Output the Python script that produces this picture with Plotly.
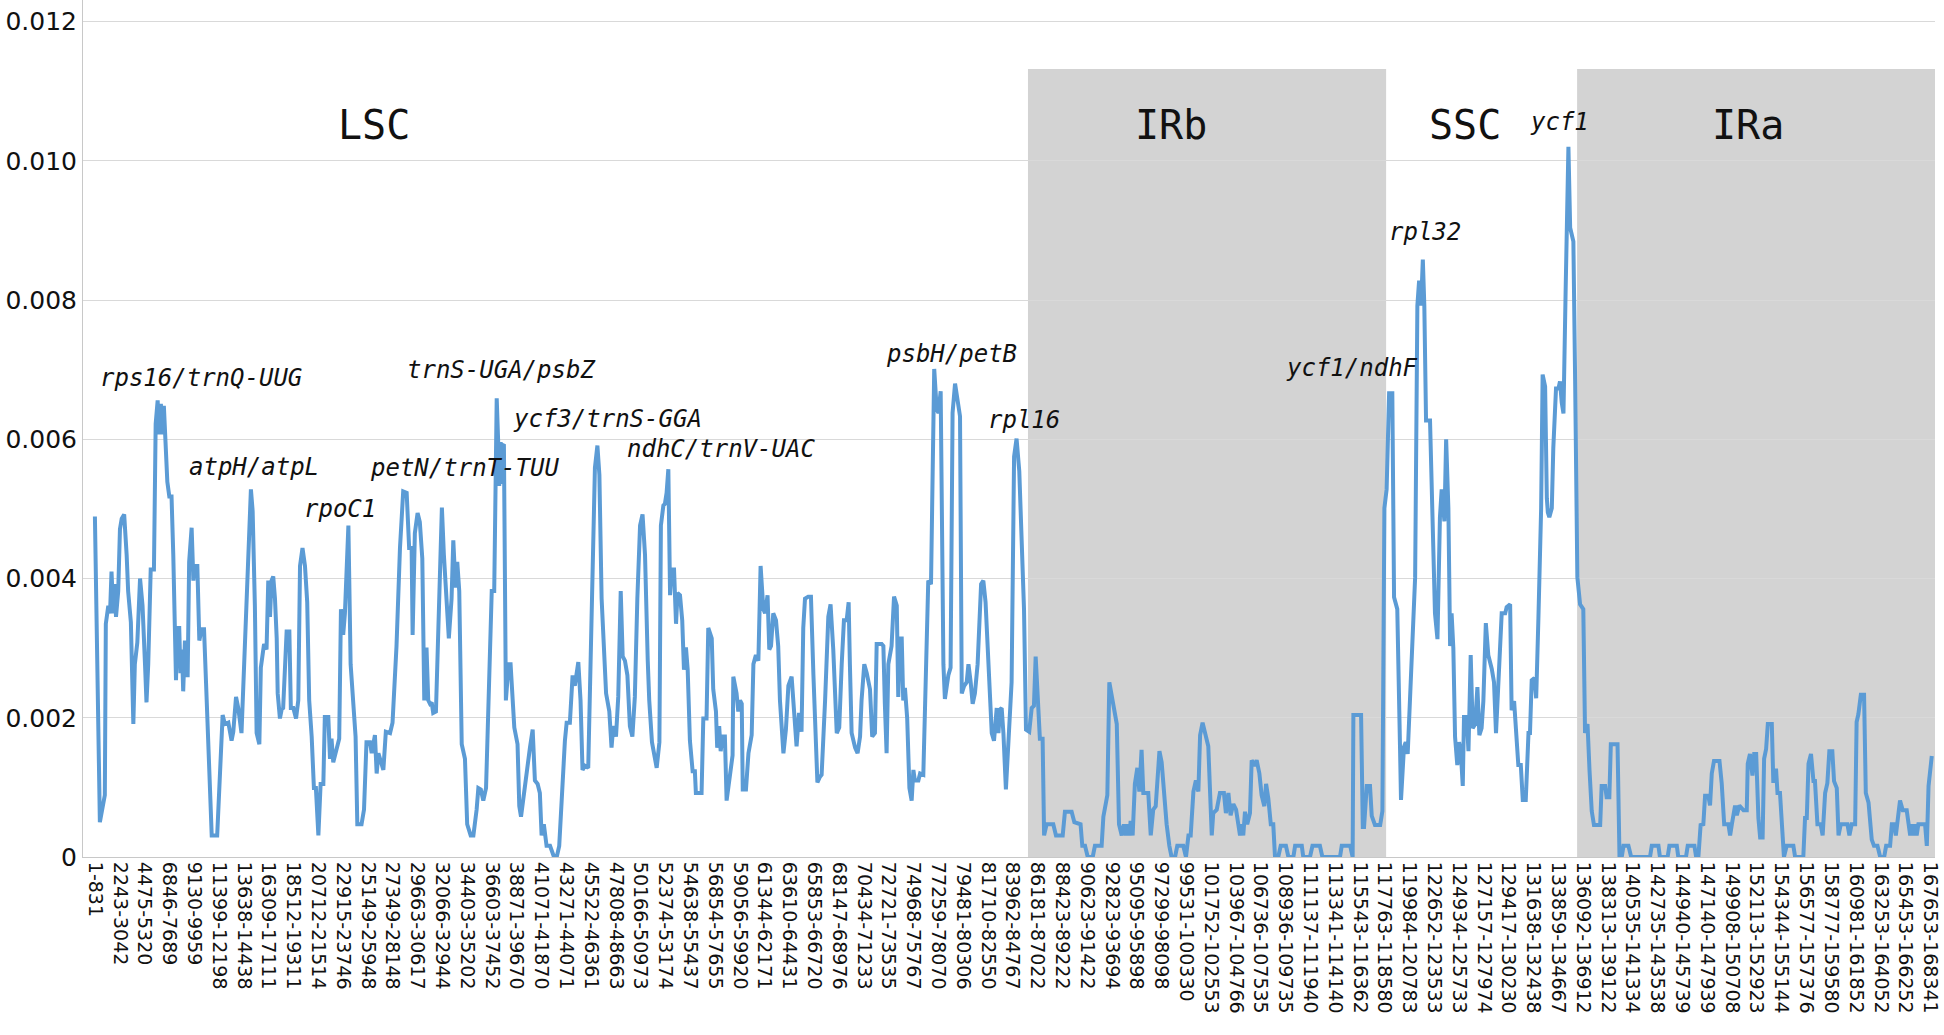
import plotly.graph_objects as go

# window labels shown under the axis (one every ~11 windows)
tick_labels = [
    "1-831", "2243-3042", "4475-5320", "6846-7689", "9130-9959", "11399-12198",
    "13638-14438", "16309-17111", "18512-19311", "20712-21514", "22915-23746",
    "25149-25948", "27349-28148", "29663-30617", "32066-32944", "34403-35202",
    "36603-37452", "38871-39670", "41071-41870", "43271-44071", "45522-46361",
    "47808-48663", "50166-50973", "52374-53174", "54638-55437", "56854-57655",
    "59056-59920", "61344-62171", "63610-64431", "65853-66720", "68147-68976",
    "70434-71233", "72721-73535", "74968-75767", "77259-78070", "79481-80306",
    "81710-82550", "83962-84767", "86181-87022", "88423-89222", "90623-91422",
    "92823-93694", "95095-95898", "97299-98098", "99531-100330", "101752-102553",
    "103967-104766", "106736-107535", "108936-109735", "111137-111940",
    "113341-114140", "115543-116362", "117763-118580", "119984-120783",
    "122652-123533", "124934-125733", "127157-127974", "129417-130230",
    "131638-132438", "133859-134667", "136092-136912", "138313-139122",
    "140535-141334", "142735-143538", "144940-145739", "147140-147939",
    "149908-150708", "152113-152923", "154344-155144", "156577-157376",
    "158777-159580", "160981-161852", "163253-164052", "165453-166252",
    "167653-168341",
]

# (position in tick units, Pi x 1e-3)
lsc = [
    (0.00, 4.89), (0.20, 0.50), (0.40, 0.89), (0.44, 3.35), (0.54, 3.61), (0.61, 3.50),
    (0.67, 4.10), (0.74, 3.50), (0.81, 3.92), (0.85, 3.45), (0.94, 3.82), (1.01, 4.71),
    (1.08, 4.86), (1.18, 4.92), (1.28, 4.34), (1.34, 3.82), (1.45, 3.37), (1.55, 1.91),
    (1.61, 2.77), (1.71, 3.08), (1.82, 4.00), (1.92, 3.61), (2.02, 2.77), (2.08, 2.22),
    (2.15, 2.77), (2.25, 4.13), (2.38, 4.13), (2.45, 6.22), (2.53, 6.56), (2.59, 6.07),
    (2.66, 6.51), (2.72, 6.07), (2.78, 6.48), (2.86, 5.80), (2.92, 5.39), (3.00, 5.18),
    (3.09, 5.18), (3.16, 4.34), (3.23, 3.03), (3.27, 2.54), (3.32, 3.29), (3.40, 3.29),
    (3.45, 2.64), (3.51, 2.98), (3.56, 2.38), (3.63, 3.11), (3.70, 2.61), (3.74, 2.61),
    (3.80, 4.24), (3.90, 4.73), (3.97, 3.97), (4.03, 4.18), (4.13, 4.18), (4.21, 3.11),
    (4.30, 3.27), (4.40, 3.27), (4.48, 2.51), (4.64, 1.20), (4.71, 0.31), (4.93, 0.31),
    (5.04, 1.20), (5.15, 2.04), (5.24, 1.91), (5.38, 1.93), (5.51, 1.67), (5.58, 1.80),
    (5.69, 2.30), (5.78, 2.14), (5.91, 1.78), (5.98, 2.46), (6.12, 3.71), (6.21, 4.76),
    (6.29, 5.28), (6.36, 4.97), (6.45, 3.61), (6.52, 1.78), (6.63, 1.62), (6.69, 2.72),
    (6.82, 3.06), (6.92, 2.98), (6.99, 3.97), (7.06, 3.45), (7.12, 3.97), (7.19, 4.03),
    (7.26, 3.71), (7.33, 3.14), (7.37, 2.35), (7.46, 1.99), (7.53, 2.12), (7.59, 2.14),
    (7.66, 2.69), (7.73, 3.24), (7.84, 3.24), (7.90, 2.14), (8.00, 2.14), (8.11, 1.99),
    (8.20, 2.25), (8.27, 4.18), (8.37, 4.44), (8.47, 4.18), (8.56, 3.66), (8.64, 2.25),
    (8.74, 1.73), (8.83, 0.99), (8.91, 0.99), (9.01, 0.31), (9.10, 1.05), (9.21, 1.05),
    (9.27, 2.01), (9.41, 2.01), (9.48, 1.41), (9.54, 1.70), (9.61, 1.36), (9.75, 1.57),
    (9.85, 1.70), (9.92, 3.56), (10.01, 3.19), (10.08, 3.50), (10.22, 4.76), (10.31, 2.77),
    (10.42, 2.25), (10.51, 1.73), (10.58, 0.47), (10.75, 0.47), (10.85, 0.68), (10.95, 1.65),
    (11.09, 1.65), (11.16, 1.49), (11.29, 1.75), (11.36, 1.20), (11.43, 1.49), (11.63, 1.25),
    (11.73, 1.80), (11.90, 1.78), (12.00, 1.93), (12.16, 3.03), (12.30, 4.44), (12.43, 5.25),
    (12.57, 5.23), (12.67, 4.44), (12.77, 4.44), (12.81, 3.19), (12.90, 4.65), (13.01, 4.94),
    (13.10, 4.81), (13.20, 4.29), (13.28, 2.25), (13.37, 3.01), (13.44, 2.25), (13.51, 2.20),
    (13.58, 2.22), (13.64, 2.07), (13.75, 2.09), (13.88, 3.56), (13.99, 5.02), (14.07, 4.34),
    (14.18, 3.71), (14.27, 3.14), (14.38, 3.71), (14.45, 4.55), (14.54, 3.87), (14.61, 4.24),
    (14.69, 3.82), (14.79, 1.62), (14.92, 1.41), (15.01, 0.47), (15.15, 0.31), (15.26, 0.31),
    (15.39, 0.68), (15.46, 0.99), (15.56, 0.97), (15.66, 0.81), (15.77, 0.99), (15.86, 2.25),
    (16.00, 3.82), (16.10, 3.82), (16.20, 6.59), (16.26, 5.96), (16.30, 5.33), (16.36, 5.96),
    (16.40, 5.36), (16.44, 5.91), (16.49, 5.93), (16.57, 2.25), (16.68, 2.77), (16.76, 2.77),
    (16.84, 2.25), (16.91, 1.86), (17.04, 1.62), (17.11, 0.73), (17.18, 0.58), (17.30, 0.94),
    (17.41, 1.20), (17.54, 1.57), (17.65, 1.83), (17.74, 1.10), (17.85, 1.05), (17.94, 0.92),
    (18.01, 0.31), (18.10, 0.47), (18.21, 0.16), (18.35, 0.16), (18.51, 0.00), (18.62, 0.00),
    (18.72, 0.16), (18.82, 0.94), (18.95, 1.67), (19.02, 1.93), (19.15, 1.93), (19.26, 2.61),
    (19.35, 2.46), (19.49, 2.80), (19.58, 2.25), (19.66, 1.25), (19.76, 1.31), (19.89, 1.28),
    (19.96, 2.25), (20.05, 3.92), (20.16, 5.59), (20.26, 5.91), (20.34, 5.49), (20.43, 3.71),
    (20.50, 3.03), (20.61, 2.35), (20.74, 2.09), (20.83, 1.57), (20.90, 1.88), (21.01, 1.73),
    (21.10, 2.30), (21.20, 3.82), (21.28, 2.88), (21.37, 2.82), (21.47, 2.61), (21.57, 1.88),
    (21.67, 1.73), (21.77, 2.30), (21.87, 3.71), (21.98, 4.76), (22.08, 4.92), (22.18, 4.34),
    (22.29, 2.82), (22.35, 2.25), (22.46, 1.65), (22.54, 1.46), (22.65, 1.28), (22.76, 1.65),
    (22.82, 4.76), (22.92, 5.05), (22.98, 5.07), (23.05, 5.23), (23.12, 5.57), (23.19, 3.76),
    (23.25, 4.13), (23.35, 4.13), (23.43, 3.35), (23.49, 3.79), (23.59, 3.76), (23.68, 3.40),
    (23.75, 2.69), (23.83, 3.01), (23.90, 2.69), (23.99, 1.67), (24.10, 1.23), (24.19, 1.23),
    (24.23, 0.92), (24.46, 0.92), (24.53, 1.99), (24.66, 1.99), (24.73, 3.29), (24.87, 3.14),
    (24.93, 2.41), (25.04, 2.09), (25.09, 1.57), (25.17, 1.88), (25.23, 1.52), (25.31, 1.73),
    (25.40, 1.73), (25.47, 0.81), (25.61, 1.15), (25.71, 1.46), (25.74, 2.59), (25.87, 2.35),
    (25.94, 2.09), (26.01, 2.25), (26.08, 2.20), (26.12, 0.97), (26.25, 0.97), (26.35, 1.49),
    (26.48, 1.75), (26.55, 2.77), (26.65, 2.90), (26.75, 2.82), (26.84, 4.18), (26.95, 3.56),
    (27.02, 3.50), (27.12, 3.76), (27.19, 2.98), (27.26, 3.03), (27.35, 3.50), (27.46, 3.40),
    (27.55, 3.03), (27.62, 2.25), (27.76, 1.49), (27.86, 1.83), (27.96, 2.46), (28.09, 2.59),
    (28.19, 2.09), (28.29, 1.59), (28.39, 2.07), (28.49, 1.80), (28.56, 3.29), (28.63, 3.71),
    (28.76, 3.74), (28.87, 3.74), (28.97, 2.61), (29.07, 1.73), (29.13, 1.07), (29.23, 1.15),
    (29.30, 1.18), (29.44, 2.25), (29.57, 3.45), (29.66, 3.63), (29.77, 2.98), (29.91, 1.78),
    (30.01, 1.86), (30.11, 2.77), (30.20, 3.40), (30.31, 3.40), (30.39, 3.66), (30.44, 2.77),
    (30.51, 1.78), (30.65, 1.57), (30.75, 1.49), (30.85, 1.73), (30.91, 2.25), (31.02, 2.77),
    (31.12, 2.64), (31.25, 2.41), (31.34, 1.73), (31.45, 1.78), (31.52, 3.06), (31.72, 3.06),
    (31.79, 3.03), (31.85, 2.20), (31.92, 1.49), (31.99, 2.77), (32.12, 3.03), (32.22, 3.74),
    (32.33, 3.61), (32.39, 2.30), (32.46, 3.14), (32.53, 3.14), (32.59, 2.25), (32.66, 2.43),
    (32.75, 1.99), (32.84, 0.99), (32.93, 0.81), (33.00, 1.25), (33.06, 1.10), (33.20, 1.10),
    (33.27, 1.20), (33.40, 1.18), (33.51, 2.77), (33.60, 3.97), (33.71, 3.92), (33.76, 5.39),
    (33.84, 7.01), (33.94, 6.43), (34.01, 6.38), (34.10, 6.69), (34.21, 2.77), (34.27, 2.27),
    (34.41, 2.61), (34.50, 2.72), (34.58, 6.38), (34.68, 6.80), (34.81, 6.54), (34.88, 6.33),
    (34.95, 2.35), (35.05, 2.46), (35.15, 2.51), (35.22, 2.77), (35.31, 2.51), (35.39, 2.20),
    (35.48, 2.35), (35.59, 2.77), (35.73, 3.92), (35.82, 3.97), (35.91, 3.66), (36.02, 2.77),
    (36.16, 1.78), (36.25, 1.67), (36.36, 2.14), (36.43, 1.78), (36.49, 2.12), (36.56, 2.14),
    (36.63, 1.78), (36.73, 0.97), (36.83, 1.73), (36.96, 2.51), (37.06, 5.75), (37.16, 6.01),
    (37.27, 5.54), (37.46, 3.56),
]

irb = [
    (37.54, 1.83), (37.67, 1.80), (37.77, 2.14), (37.86, 2.17), (37.93, 2.88), (38.04, 2.25),
    (38.10, 1.70), (38.21, 1.70), (38.27, 0.31), (38.37, 0.47), (38.64, 0.47), (38.75, 0.31),
    (39.02, 0.31), (39.11, 0.65), (39.38, 0.65), (39.49, 0.50), (39.74, 0.47), (39.81, 0.16),
    (39.92, 0.16), (40.03, 0.00), (40.23, 0.00), (40.32, 0.16), (40.59, 0.16), (40.66, 0.58),
    (40.82, 0.89), (40.90, 2.51), (41.06, 2.20), (41.20, 1.91), (41.29, 0.47), (41.40, 0.31),
    (41.49, 0.47), (41.57, 0.31), (41.63, 0.47), (41.71, 0.31), (41.76, 0.52), (41.84, 0.31),
    (41.93, 1.05), (42.03, 1.28), (42.11, 0.94), (42.20, 1.54), (42.27, 0.92), (42.47, 0.92),
    (42.57, 0.31), (42.67, 0.68), (42.77, 0.73), (42.92, 1.52), (43.01, 1.36), (43.10, 0.94),
    (43.21, 0.47), (43.32, 0.16), (43.41, 0.00), (43.55, 0.00), (43.64, 0.16), (43.88, 0.16),
    (43.99, 0.00), (44.09, 0.31), (44.18, 0.31), (44.29, 0.94), (44.39, 1.10), (44.49, 0.94),
    (44.56, 1.75), (44.66, 1.93), (44.76, 1.78), (44.89, 1.59), (45.03, 0.31), (45.09, 0.63),
    (45.23, 0.68), (45.36, 0.92), (45.52, 0.92), (45.60, 0.63), (45.70, 0.92), (45.79, 0.60),
    (45.90, 0.76), (46.01, 0.68), (46.10, 0.47), (46.17, 0.31), (46.24, 0.47), (46.30, 0.31),
    (46.37, 0.65), (46.46, 0.47), (46.57, 0.63), (46.64, 1.39), (46.75, 1.31), (46.84, 1.39),
    (46.95, 1.20), (47.04, 0.89), (47.15, 0.73), (47.22, 1.05), (47.31, 0.84), (47.41, 0.47),
    (47.51, 0.47), (47.58, 0.00), (47.71, 0.00), (47.81, 0.16), (48.02, 0.16), (48.12, 0.00),
    (48.32, 0.00), (48.39, 0.16), (48.66, 0.16), (48.72, 0.00), (48.99, 0.00), (49.09, 0.16),
    (49.39, 0.16), (49.49, 0.00), (50.20, 0.00), (50.27, 0.16), (50.61, 0.16), (50.71, 0.00),
    (50.74, 2.04), (51.05, 2.04), (51.12, 0.43), (51.17, 0.43), (51.28, 1.02), (51.41, 1.02),
    (51.48, 0.59), (51.61, 0.46), (51.82, 0.46), (51.91, 0.66), (51.99, 5.01),
]

ssc = [
    (52.08, 5.28), (52.18, 6.66), (52.31, 6.66), (52.38, 3.73), (52.51, 3.56), (52.62, 1.58),
    (52.66, 0.82), (52.78, 1.58), (52.85, 1.65), (52.93, 1.48), (53.02, 2.24), (53.13, 3.23),
    (53.23, 4.02), (53.32, 7.92), (53.39, 8.28), (53.47, 7.92), (53.54, 8.58), (53.60, 7.92),
    (53.67, 6.27), (53.83, 6.27), (53.94, 4.62), (54.03, 3.50), (54.13, 3.13), (54.23, 4.88),
    (54.30, 5.28), (54.41, 4.82), (54.48, 6.00), (54.57, 5.01), (54.64, 3.03), (54.70, 3.50),
    (54.77, 3.00), (54.84, 1.72), (54.93, 1.32), (55.00, 1.65), (55.07, 1.52), (55.15, 1.02),
    (55.20, 2.01), (55.31, 2.01), (55.38, 1.52), (55.47, 2.90), (55.55, 1.85), (55.65, 1.91),
    (55.74, 2.44), (55.82, 1.75), (55.91, 1.85), (55.98, 2.24), (56.08, 3.36), (56.18, 2.90),
    (56.32, 2.70), (56.41, 2.51), (56.49, 1.78), (56.59, 2.44), (56.72, 3.50), (56.86, 3.50),
    (56.92, 3.59), (57.06, 3.63), (57.12, 2.11), (57.22, 2.24), (57.33, 1.58), (57.39, 1.32),
    (57.49, 1.32), (57.57, 0.82), (57.69, 0.82), (57.80, 1.78), (57.86, 1.78), (57.93, 2.54),
    (58.04, 2.57), (58.11, 2.28), (58.20, 3.43), (58.27, 4.55), (58.31, 5.01), (58.37, 6.93),
    (58.47, 6.76), (58.54, 5.15), (58.58, 4.95), (58.64, 4.88), (58.74, 5.01), (58.80, 5.87),
    (58.91, 6.73), (59.01, 6.73), (59.07, 6.83), (59.14, 6.53), (59.21, 6.37), (59.30, 8.18),
    (59.41, 10.20), (59.48, 9.04), (59.61, 8.84), (59.68, 6.86),
]

ira = [
    (59.77, 4.02), (59.88, 3.63), (60.01, 3.56), (60.08, 1.78), (60.18, 1.91), (60.26, 1.25),
    (60.35, 0.66), (60.44, 0.46), (60.69, 0.46), (60.75, 1.02), (60.89, 1.02), (60.95, 0.86),
    (61.06, 0.86), (61.12, 1.62), (61.39, 1.62), (61.47, 0.00), (61.56, 0.00), (61.63, 0.16),
    (61.83, 0.16), (61.94, 0.00), (62.70, 0.00), (62.77, 0.16), (63.04, 0.16), (63.10, 0.00),
    (63.41, 0.00), (63.48, 0.16), (63.78, 0.16), (63.84, 0.00), (64.15, 0.00), (64.22, 0.16),
    (64.49, 0.16), (64.56, 0.00), (64.65, 0.00), (64.74, 0.46), (64.85, 0.47), (64.92, 0.88),
    (65.05, 0.88), (65.12, 0.74), (65.19, 1.20), (65.28, 1.38), (65.50, 1.38), (65.59, 1.06),
    (65.69, 0.47), (65.86, 0.47), (65.93, 0.31), (66.00, 0.47), (66.13, 0.74), (66.20, 0.60),
    (66.30, 0.74), (66.47, 0.67), (66.60, 0.67), (66.64, 1.34), (66.73, 1.48), (66.83, 1.17),
    (66.90, 1.48), (66.98, 1.48), (67.07, 0.56), (67.14, 0.28), (67.24, 0.28), (67.30, 1.41),
    (67.38, 1.55), (67.45, 1.91), (67.61, 1.91), (67.67, 1.09), (67.74, 1.09), (67.78, 1.27),
    (67.84, 0.92), (67.94, 0.92), (68.04, 0.28), (68.10, 0.00), (68.21, 0.16), (68.48, 0.16),
    (68.55, 0.00), (68.88, 0.00), (68.95, 0.56), (69.02, 0.56), (69.09, 1.34), (69.19, 1.48),
    (69.29, 1.09), (69.35, 1.09), (69.45, 0.47), (69.58, 0.47), (69.66, 0.31), (69.76, 0.92),
    (69.85, 1.06), (69.93, 1.52), (70.05, 1.52), (70.12, 1.09), (70.23, 0.99), (70.30, 0.31),
    (70.39, 0.47), (70.66, 0.47), (70.74, 0.31), (70.83, 0.47), (70.97, 0.47), (71.03, 1.94),
    (71.10, 2.05), (71.20, 2.33), (71.33, 2.33), (71.40, 0.92), (71.51, 0.78), (71.64, 0.25),
    (71.73, 0.16), (71.87, 0.16), (71.98, 0.00), (72.14, 0.00), (72.22, 0.16), (72.38, 0.16),
    (72.45, 0.47), (72.54, 0.47), (72.61, 0.31), (72.71, 0.60), (72.78, 0.81), (72.89, 0.67),
    (73.05, 0.67), (73.19, 0.31), (73.25, 0.47), (73.32, 0.31), (73.39, 0.47), (73.45, 0.31),
    (73.52, 0.47), (73.79, 0.47), (73.86, 0.16), (73.93, 1.02), (74.06, 1.45),
]

# inverted repeat spans (tick units) shaded grey
ir_regions = [(37.62, 52.06), (59.76, 74.19)]

region_names = ["LSC", "IRb", "SSC", "IRa"]
region_x = [11.25, 43.39, 55.24, 66.65]

hotspots = [
    ("rps16/trnQ-UUG", 4.27, 6.88),
    ("atpH/atpL", 6.41, 5.60),
    ("rpoC1", 9.88, 5.00),
    ("petN/trnT-TUU", 14.92, 5.59),
    ("trnS-UGA/psbZ", 16.37, 7.00),
    ("ycf3/trnS-GGA", 20.65, 6.29),
    ("ndhC/trnV-UAC", 25.25, 5.86),
    ("psbH/petB", 34.54, 7.22),
    ("rpl16", 37.46, 6.28),
    ("ycf1/ndhF", 50.70, 7.03),
    ("rpl32", 53.63, 8.98),
    ("ycf1", 59.07, 10.56),
]

points = lsc + irb + ssc + ira
pos = [p for p, _ in points]
pi = [v / 1000 for _, v in points]

fig = go.Figure()

fig.add_trace(
    go.Scatter(
        x=pos,
        y=pi,
        mode="lines",
        line=dict(color="#5B9BD5", width=4),
        hovertemplate="Pi: %{y:.4f}<extra></extra>",
        showlegend=False,
    )
)

for x0, x1 in ir_regions:
    fig.add_shape(
        type="rect",
        xref="x",
        yref="y",
        x0=x0,
        x1=x1,
        y0=0,
        y1=0.01132,
        fillcolor="#D3D3D3",
        line_width=0,
        layer="below",
    )

for name, x in zip(region_names, region_x):
    fig.add_annotation(
        x=x,
        y=0.01052,
        text=name,
        showarrow=False,
        font=dict(family="DejaVu Sans Mono", size=40, color="#111111"),
    )

for label, x, y in hotspots:
    fig.add_annotation(
        x=x,
        y=y / 1000,
        text=label,
        showarrow=False,
        font=dict(family="DejaVu Sans Mono", size=24, color="#111111", style="italic"),
    )

y_ticks = [0, 0.002, 0.004, 0.006, 0.008, 0.010, 0.012]

fig.update_layout(
    width=1944,
    height=1035,
    margin=dict(l=83, r=9, t=0, b=178),
    paper_bgcolor="white",
    plot_bgcolor="white",
    xaxis=dict(
        range=[-0.48, 74.19],
        tickvals=list(range(len(tick_labels))),
        ticktext=tick_labels,
        tickangle=90,
        tickfont=dict(family="DejaVu Sans", size=19, color="#111111"),
        showgrid=False,
        zeroline=False,
        showline=True,
        linecolor="#C8C8C8",
        linewidth=1,
        ticks="",
        automargin=False,
    ),
    yaxis=dict(
        range=[0, 0.01231],
        tickvals=y_ticks,
        ticktext=["0", "0.002", "0.004", "0.006", "0.008", "0.010", "0.012"],
        tickfont=dict(family="DejaVu Sans", size=25, color="#111111"),
        showgrid=True,
        gridcolor="#D9D9D9",
        gridwidth=1,
        zeroline=False,
        showline=True,
        linecolor="#C8C8C8",
        linewidth=1,
        ticks="",
        automargin=False,
    ),
)

# the page body has a default 8px margin; drop it so the figure sits at 0,0
fig.write_html(
    "out.html",
    config={"displayModeBar": False},
    post_script="document.body.style.margin = '0';",
)
